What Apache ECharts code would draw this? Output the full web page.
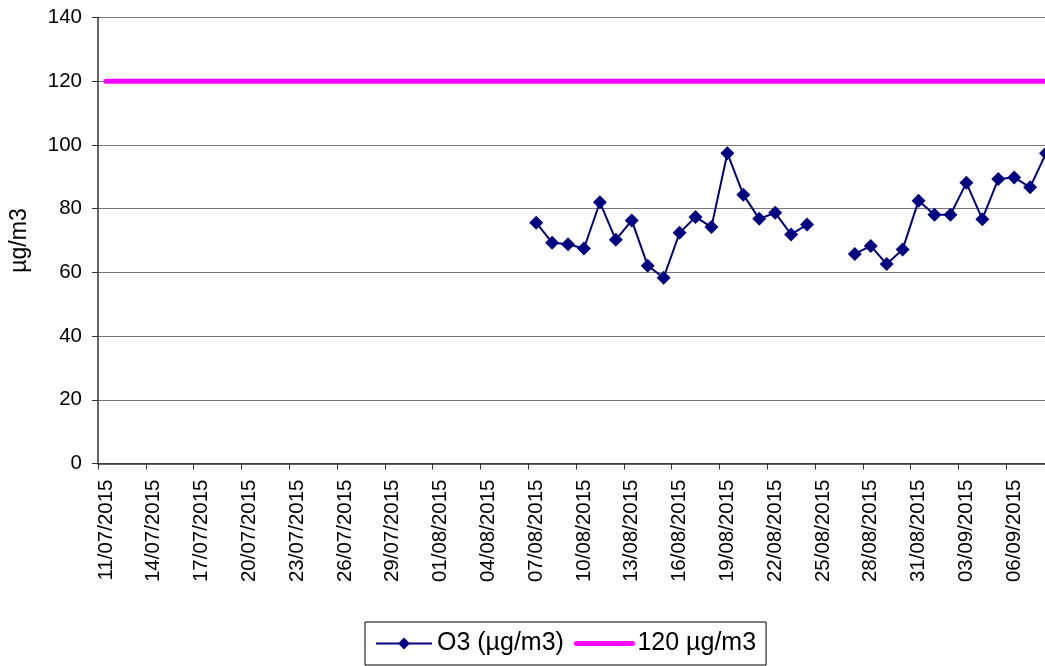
<!DOCTYPE html>
<html>
<head>
<meta charset="utf-8">
<script src="https://cdn.jsdelivr.net/npm/echarts@6/dist/echarts.min.js"></script>
<style>
  html, body { margin: 0; padding: 0; background: #fff; }
  #chart { width: 1045px; height: 666px; }
</style>
</head>
<body>
<div id="chart"></div>
<script>
// Daily dates, 11/07/2015 – 08/09/2015
const dates = [
  '11/07/2015','12/07/2015','13/07/2015','14/07/2015','15/07/2015','16/07/2015','17/07/2015',
  '18/07/2015','19/07/2015','20/07/2015','21/07/2015','22/07/2015','23/07/2015','24/07/2015',
  '25/07/2015','26/07/2015','27/07/2015','28/07/2015','29/07/2015','30/07/2015','31/07/2015',
  '01/08/2015','02/08/2015','03/08/2015','04/08/2015','05/08/2015','06/08/2015','07/08/2015',
  '08/08/2015','09/08/2015','10/08/2015','11/08/2015','12/08/2015','13/08/2015','14/08/2015',
  '15/08/2015','16/08/2015','17/08/2015','18/08/2015','19/08/2015','20/08/2015','21/08/2015',
  '22/08/2015','23/08/2015','24/08/2015','25/08/2015','26/08/2015','27/08/2015','28/08/2015',
  '29/08/2015','30/08/2015','31/08/2015','01/09/2015','02/09/2015','03/09/2015','04/09/2015',
  '05/09/2015','06/09/2015','07/09/2015','08/09/2015'
];

// Daily O3 concentration (µg/m3); null = no measurement
const o3 = [
  null, null, null, null, null, null, null,
  null, null, null, null, null, null, null,
  null, null, null, null, null, null, null,
  null, null, null, null, null, null, 75.6,
  69.3, 68.8, 67.5, 82.0, 70.2, 76.3, 62.1,
  58.3, 72.4, 77.4, 74.2, 97.4, 84.4, 76.8,
  78.7, 71.9, 75.0, null, null, 65.8, 68.3,
  62.6, 67.2, 82.5, 78.1, 78.1, 88.1, 76.7,
  89.3, 89.8, 86.7, 97.4
];

// Target value 120 µg/m3
const limit = [
  120, 120, 120, 120, 120, 120, 120, 120, 120, 120,
  120, 120, 120, 120, 120, 120, 120, 120, 120, 120,
  120, 120, 120, 120, 120, 120, 120, 120, 120, 120,
  120, 120, 120, 120, 120, 120, 120, 120, 120, 120,
  120, 120, 120, 120, 120, 120, 120, 120, 120, 120,
  120, 120, 120, 120, 120, 120, 120, 120, 120, 120
];

const seriesNames = ['O3 (µg/m3)', '120 µg/m3'];
const yAxisName = 'µg/m3';

const font = 'Liberation Sans, Arial, sans-serif';
const chart = echarts.init(document.getElementById('chart'), null, { renderer: 'canvas' });

chart.setOption({
  animation: false,
  backgroundColor: '#ffffff',
  textStyle: { fontFamily: font },
  grid: {
    left: 98,
    top: 17.5,
    width: 956,
    height: 446,
    containLabel: false,
    outerBoundsMode: 'none'
  },
  legend: {
    left: 365,
    top: 622,
    itemWidth: 56,
    itemHeight: 15,
    itemGap: 10,
    padding: [9, 10, 9, 10],
    borderColor: '#000',
    borderWidth: 1,
    backgroundColor: '#fff',
    textStyle: { fontFamily: font, fontSize: 25, color: '#000' },
    data: [
      { name: seriesNames[0] },
      { name: seriesNames[1], itemStyle: { opacity: 0 }, lineStyle: { width: 5, cap: 'round' } }
    ]
  },
  xAxis: {
    type: 'category',
    data: dates,
    boundaryGap: true,
    axisLine: { show: true, lineStyle: { color: '#333', width: 1.5 } },
    axisTick: { show: true, interval: 2, length: 6, lineStyle: { color: '#333' } },
    axisLabel: {
      interval: 2,
      rotate: 90,
      margin: 16,
      fontFamily: font,
      fontSize: 20.5,
      color: '#000'
    },
    splitLine: { show: false }
  },
  yAxis: {
    type: 'value',
    min: 0,
    max: 140,
    interval: 20,
    name: yAxisName,
    nameLocation: 'middle',
    nameRotate: 90,
    nameGap: 67,
    nameTextStyle: { fontFamily: font, fontSize: 23, color: '#000' },
    axisLine: { show: true, lineStyle: { color: '#333', width: 1.5 } },
    axisTick: { show: true, length: 6, lineStyle: { color: '#333' } },
    axisLabel: { margin: 16, fontFamily: font, fontSize: 20.5, color: '#000' },
    splitLine: { show: true, lineStyle: { color: '#777', width: 1 } }
  },
  series: [
    {
      name: seriesNames[0],
      type: 'line',
      data: o3,
      connectNulls: false,
      symbol: 'diamond',
      symbolSize: 14,
      showAllSymbol: true,
      itemStyle: { color: '#000080' },
      lineStyle: { color: '#000080', width: 2 },
      z: 3
    },
    {
      name: seriesNames[1],
      type: 'line',
      data: limit,
      symbol: 'none',
      itemStyle: { color: '#ff00ff' },
      lineStyle: { color: '#ff00ff', width: 5, cap: 'round' },
      z: 2
    }
  ]
});
</script>
</body>
</html>
